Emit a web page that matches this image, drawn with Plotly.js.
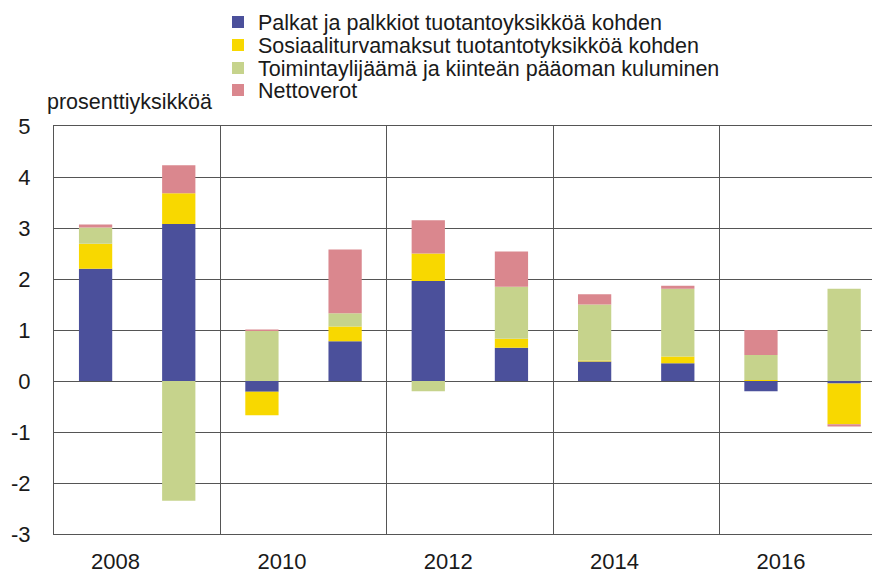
<!DOCTYPE html>
<html>
<head>
<meta charset="utf-8">
<script src="https://cdn.plot.ly/plotly-3.0.1.min.js"></script>
<style>
  html, body { margin: 0; padding: 0; background: #fff; }
  #chart { width: 872px; height: 574px; }
</style>
</head>
<body>
<div id="chart"></div>
<script>
// ---- data ----
const years = [2008, 2009, 2010, 2011, 2012, 2013, 2014, 2015, 2016, 2017];
const palkat     = [2.20, 3.08, -0.21, 0.78, 1.96, 0.65, 0.38, 0.35, -0.20, -0.05];
const sosiaali   = [0.49, 0.60, -0.46, 0.29, 0.54, 0.18, 0.02, 0.13, 0.02, -0.80];
const toiminta   = [0.32, -2.35, 0.98, 0.26, -0.20, 1.02, 1.10, 1.33, 0.49, 1.81];
const nettoverot = [0.06, 0.55, 0.03, 1.25, 0.65, 0.69, 0.20, 0.06, 0.49, -0.04];

const seriesNames = [
  "Palkat ja palkkiot tuotantoyksikköä kohden",
  "Sosiaaliturvamaksut tuotantotyksikköä kohden",
  "Toimintaylijäämä ja kiinteän pääoman kuluminen",
  "Nettoverot"
];
const xTickLabels = ["2008", "2010", "2012", "2014", "2016"];
const yTickValues = [-3, -2, -1, 0, 1, 2, 3, 4, 5];
const yTickLabels = ["-3", "-2", "-1", "0", "1", "2", "3", "4", "5"];
const yTitle = "prosenttiyksikköä";

// ---- styling ----
const colors = ["#4B509B", "#F8D800", "#C6D38C", "#DA878E"];
const FONT = "Arial, 'Liberation Sans', sans-serif";
const gridColor = "#555555";

const seriesValues = [palkat, sosiaali, toiminta, nettoverot];
const legendIds = ["legend", "legend2", "legend3", "legend4"];

const traces = seriesValues.map((vals, i) => ({
  type: "bar",
  name: seriesNames[i],
  x: years,
  y: vals,
  marker: { color: colors[i], line: { width: 0 } },
  legend: legendIds[i],
  hoverinfo: "x+y+name"
}));

const W = 872, H = 574;
const legendRowsY = [22, 45, 68, 90];
const legendLeft = 218;

const layout = {
  width: W,
  height: H,
  margin: { l: 54, r: 0, t: 126, b: 40, pad: 0, autoexpand: false },
  paper_bgcolor: "#ffffff",
  plot_bgcolor: "#ffffff",
  barmode: "relative",
  bargap: 0.6,
  font: { family: FONT, size: 21, color: "#1a1a1a" },
  xaxis: {
    range: [years[0] - 0.5, years[0] - 0.5 + 9.835],
    tickmode: "array",
    tickvals: xTickLabels.map(t => Number(t) + 0.24),
    ticktext: xTickLabels,
    tickangle: 0,
    ticks: "",
    ticklabelstandoff: 8,
    tickfont: { family: FONT, size: 22, color: "#1a1a1a" },
    showgrid: false,
    zeroline: false,
    showline: true,
    mirror: true,
    linecolor: gridColor,
    linewidth: 1,
    automargin: false,
    minor: {
      tickmode: "array",
      tickvals: years.filter((y, i) => i % 2 === 1 && i < years.length - 1).map(y => y + 0.5),
      showgrid: true,
      gridcolor: gridColor,
      gridwidth: 1,
      ticks: ""
    },
    fixedrange: true
  },
  yaxis: {
    range: [-3, 5],
    tickmode: "array",
    tickvals: yTickValues,
    ticktext: yTickLabels,
    ticks: "",
    ticklabelstandoff: 18,
    tickfont: { family: FONT, size: 22, color: "#1a1a1a" },
    showgrid: true,
    gridcolor: gridColor,
    gridwidth: 1,
    zeroline: true,
    zerolinecolor: gridColor,
    zerolinewidth: 1,
    showline: true,
    linecolor: gridColor,
    linewidth: 1,
    mirror: false,
    automargin: false,
    fixedrange: true
  },
  annotations: [{
    text: yTitle,
    xref: "paper", yref: "paper",
    x: (45 - 54) / (W - 54), y: (534 - 102) / 408,
    xanchor: "left", yanchor: "middle",
    showarrow: false,
    font: { family: FONT, size: 21.5, color: "#1a1a1a" }
  }],
  showlegend: true
};

legendIds.forEach((id, i) => {
  layout[id] = {
    xref: "container", yref: "container",
    x: legendLeft / W,
    y: 1 - legendRowsY[i] / H,
    xanchor: "left", yanchor: "middle",
    bgcolor: "rgba(0,0,0,0)",
    borderwidth: 0,
    itemwidth: 30,
    font: { family: FONT, size: 21.5, color: "#1a1a1a" },
    itemclick: false, itemdoubleclick: false
  };
});

Plotly.newPlot("chart", traces, layout, { displayModeBar: false, staticPlot: true });
</script>
</body>
</html>
